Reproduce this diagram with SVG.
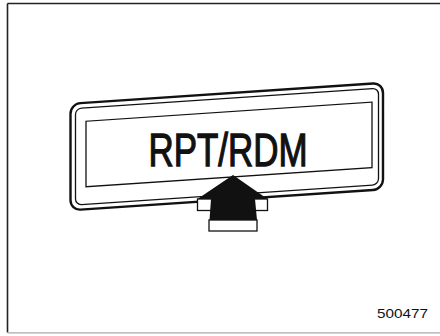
<svg xmlns="http://www.w3.org/2000/svg" width="440" height="336" viewBox="0 0 440 336">
  <style>
    .ol { fill: none; stroke: #111; }
    .label { font-family: "Liberation Sans", Arial, sans-serif; fill: #111; }
  </style>
  <rect width="440" height="336" fill="#fff"/>
  <g id="frame">
    <line x1="7.5" y1="3.5" x2="440" y2="3.5" stroke="#222" stroke-width="1.6"/>
    <line x1="7.5" y1="3.5" x2="7.5" y2="332.5" stroke="#222" stroke-width="1.6"/>
    <line x1="7.5" y1="332.8" x2="440" y2="332.8" stroke="#aaa" stroke-width="1.2"/>
  </g>
  <g id="panel" transform="matrix(1,-0.067,0,1,0,0)">
    <rect class="ol" x="70.5" y="108.5" width="312.5" height="106.5" rx="10" stroke-width="2.4"/>
    <rect class="ol" x="75.5" y="113.5" width="303" height="96.5" rx="6" stroke-width="1.3"/>
    <rect class="ol" x="86" y="127" width="286" height="65.5" stroke-width="1.3"/>
  </g>
  <g id="display-text">
    <text class="label" x="228" y="165.5" font-size="46.5" text-anchor="middle" textLength="159" lengthAdjust="spacingAndGlyphs" stroke="#111" stroke-width="1.3">RPT/RDM</text>
  </g>
  <g id="arrow">
    <rect x="197.5" y="199" width="70" height="11.5" fill="#fff" stroke="#111" stroke-width="1.3"/>
    <polygon points="233,175 197.5,199 211,199 209.5,220 257,220 255,199 267.5,199" fill="#111"/>
    <rect x="209" y="220" width="48" height="11" fill="#fff" stroke="#111" stroke-width="1.3"/>
  </g>
  <g id="figure-number">
    <text class="label" x="377" y="318" font-size="13.5" fill="#222" textLength="51" lengthAdjust="spacingAndGlyphs">500477</text>
  </g>
</svg>
